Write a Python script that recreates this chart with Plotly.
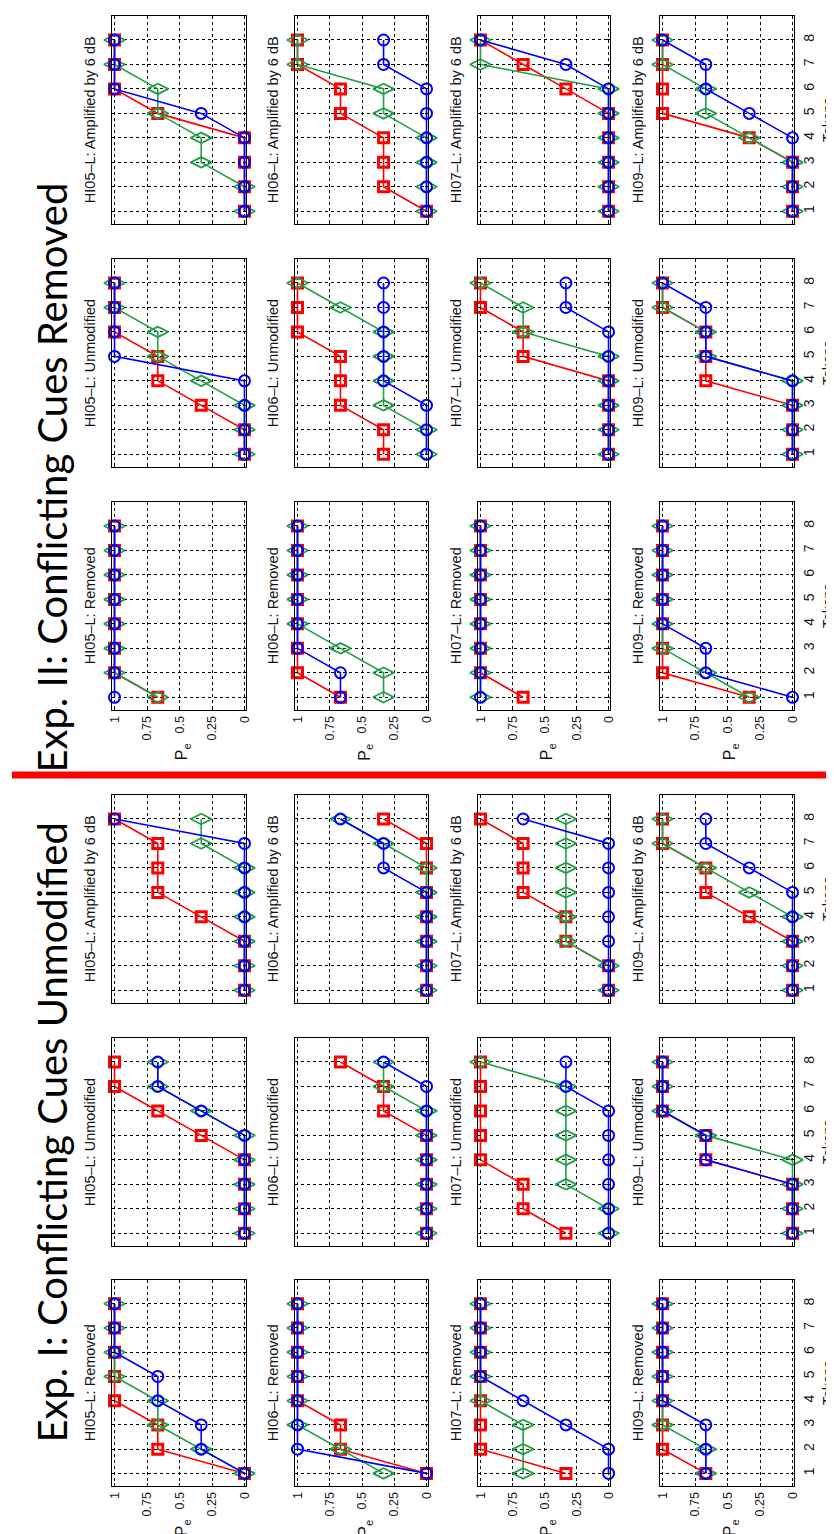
import plotly.graph_objects as go

W, H = 834, 1534

TOKENS = [1, 2, 3, 4, 5, 6, 7, 8]
LISTENERS = ["HI05", "HI06", "HI07", "HI09"]
CONDITIONS = ["Amplified by 6 dB", "Unmodified", "Removed"]
PE_TICKS = [0, 0.25, 0.5, 0.75, 1]
PE_LABELS = ["0", "0.25", "0.5", "0.75", "1"]
EXP_TITLES = ["Exp. II: Conflicting Cues Removed", "Exp. I: Conflicting Cues Unmodified"]

# ---------------- Exp. II (conflicting cues removed) ----------------
e2_amp_hi05_r = [0, 0, 0, 0, .667, 1, 1, 1]
e2_amp_hi05_g = [0, 0, .333, .333, .667, .667, 1, 1]
e2_amp_hi05_b = [0, 0, 0, 0, .333, 1, 1, 1]
e2_amp_hi06_r = [0, .333, .333, .333, .667, .667, 1, 1]
e2_amp_hi06_g = [0, 0, 0, 0, .333, .333, 1, 1]
e2_amp_hi06_b = [0, 0, 0, 0, 0, 0, .333, .333]
e2_amp_hi07_r = [0, 0, 0, 0, 0, .333, .667, 1]
e2_amp_hi07_g = [0, 0, 0, 0, 0, 0, 1, 1]
e2_amp_hi07_b = [0, 0, 0, 0, 0, 0, .333, 1]
e2_amp_hi09_r = [0, 0, 0, .333, 1, 1, 1, 1]
e2_amp_hi09_g = [0, 0, 0, .333, .667, .667, 1, 1]
e2_amp_hi09_b = [0, 0, 0, 0, .333, .667, .667, 1]

e2_unm_hi05_r = [0, 0, .333, .667, .667, 1, 1, 1]
e2_unm_hi05_g = [0, 0, 0, .333, .667, .667, 1, 1]
e2_unm_hi05_b = [0, 0, 0, 0, 1, 1, 1, 1]
e2_unm_hi06_r = [.333, .333, .667, .667, .667, 1, 1, 1]
e2_unm_hi06_g = [0, 0, .333, .333, .333, .333, .667, 1]
e2_unm_hi06_b = [0, 0, 0, .333, .333, .333, .333, .333]
e2_unm_hi07_r = [0, 0, 0, 0, .667, .667, 1, 1]
e2_unm_hi07_g = [0, 0, 0, 0, 0, .667, .667, 1]
e2_unm_hi07_b = [0, 0, 0, 0, 0, 0, .333, .333]
e2_unm_hi09_r = [0, 0, 0, .667, .667, .667, 1, 1]
e2_unm_hi09_g = [0, 0, 0, 0, .667, .667, 1, 1]
e2_unm_hi09_b = [0, 0, 0, 0, .667, .667, .667, 1]

e2_rem_hi05_r = [.667, 1, 1, 1, 1, 1, 1, 1]
e2_rem_hi05_g = [.667, 1, 1, 1, 1, 1, 1, 1]
e2_rem_hi05_b = [1, 1, 1, 1, 1, 1, 1, 1]
e2_rem_hi06_r = [.667, 1, 1, 1, 1, 1, 1, 1]
e2_rem_hi06_g = [.333, .333, .667, 1, 1, 1, 1, 1]
e2_rem_hi06_b = [.667, .667, 1, 1, 1, 1, 1, 1]
e2_rem_hi07_r = [.667, 1, 1, 1, 1, 1, 1, 1]
e2_rem_hi07_g = [1, 1, 1, 1, 1, 1, 1, 1]
e2_rem_hi07_b = [1, 1, 1, 1, 1, 1, 1, 1]
e2_rem_hi09_r = [.333, 1, 1, 1, 1, 1, 1, 1]
e2_rem_hi09_g = [.333, .667, 1, 1, 1, 1, 1, 1]
e2_rem_hi09_b = [0, .667, .667, 1, 1, 1, 1, 1]

# ---------------- Exp. I (conflicting cues unmodified) ----------------
e1_amp_hi05_r = [0, 0, 0, .333, .667, .667, .667, 1]
e1_amp_hi05_g = [0, 0, 0, 0, 0, 0, .333, .333]
e1_amp_hi05_b = [0, 0, 0, 0, 0, 0, 0, 1]
e1_amp_hi06_r = [0, 0, 0, 0, 0, 0, 0, .333]
e1_amp_hi06_g = [0, 0, 0, 0, 0, 0, .333, .667]
e1_amp_hi06_b = [0, 0, 0, 0, 0, .333, .333, .667]
e1_amp_hi07_r = [0, 0, .333, .333, .667, .667, .667, 1]
e1_amp_hi07_g = [0, 0, .333, .333, .333, .333, .333, .333]
e1_amp_hi07_b = [0, 0, 0, 0, 0, 0, 0, .667]
e1_amp_hi09_r = [0, 0, 0, .333, .667, .667, 1, 1]
e1_amp_hi09_g = [0, 0, 0, 0, .333, .667, 1, 1]
e1_amp_hi09_b = [0, 0, 0, 0, 0, .333, .667, .667]

e1_unm_hi05_r = [0, 0, 0, 0, .333, .667, 1, 1]
e1_unm_hi05_g = [0, 0, 0, 0, 0, .333, .667, .667]
e1_unm_hi05_b = [0, 0, 0, 0, 0, .333, .667, .667]
e1_unm_hi06_r = [0, 0, 0, 0, 0, .333, .333, .667]
e1_unm_hi06_g = [0, 0, 0, 0, 0, 0, .333, .333]
e1_unm_hi06_b = [0, 0, 0, 0, 0, 0, 0, .333]
e1_unm_hi07_r = [.333, .667, .667, 1, 1, 1, 1, 1]
e1_unm_hi07_g = [0, 0, .333, .333, .333, .333, .333, 1]
e1_unm_hi07_b = [0, 0, 0, 0, 0, 0, .333, .333]
e1_unm_hi09_r = [0, 0, 0, .667, .667, 1, 1, 1]
e1_unm_hi09_g = [0, 0, 0, 0, .667, 1, 1, 1]
e1_unm_hi09_b = [0, 0, 0, .667, .667, 1, 1, 1]

e1_rem_hi05_r = [0, .667, .667, 1, 1, 1, 1, 1]
e1_rem_hi05_g = [0, .333, .667, .667, 1, 1, 1, 1]
e1_rem_hi05_b = [0, .333, .333, .667, .667, 1, 1, 1]
e1_rem_hi06_r = [0, .667, .667, 1, 1, 1, 1, 1]
e1_rem_hi06_g = [.333, .667, 1, 1, 1, 1, 1, 1]
e1_rem_hi06_b = [0, 1, 1, 1, 1, 1, 1, 1]
e1_rem_hi07_r = [.333, 1, 1, 1, 1, 1, 1, 1]
e1_rem_hi07_g = [.667, .667, .667, 1, 1, 1, 1, 1]
e1_rem_hi07_b = [0, 0, .333, .667, 1, 1, 1, 1]
e1_rem_hi09_r = [.667, 1, 1, 1, 1, 1, 1, 1]
e1_rem_hi09_g = [.667, .667, 1, 1, 1, 1, 1, 1]
e1_rem_hi09_b = [.667, .667, .667, 1, 1, 1, 1, 1]

PANELS = [
    # (half, row, col, red, green, blue)
    (0, 0, 0, e2_amp_hi05_r, e2_amp_hi05_g, e2_amp_hi05_b),
    (0, 0, 1, e2_amp_hi06_r, e2_amp_hi06_g, e2_amp_hi06_b),
    (0, 0, 2, e2_amp_hi07_r, e2_amp_hi07_g, e2_amp_hi07_b),
    (0, 0, 3, e2_amp_hi09_r, e2_amp_hi09_g, e2_amp_hi09_b),
    (0, 1, 0, e2_unm_hi05_r, e2_unm_hi05_g, e2_unm_hi05_b),
    (0, 1, 1, e2_unm_hi06_r, e2_unm_hi06_g, e2_unm_hi06_b),
    (0, 1, 2, e2_unm_hi07_r, e2_unm_hi07_g, e2_unm_hi07_b),
    (0, 1, 3, e2_unm_hi09_r, e2_unm_hi09_g, e2_unm_hi09_b),
    (0, 2, 0, e2_rem_hi05_r, e2_rem_hi05_g, e2_rem_hi05_b),
    (0, 2, 1, e2_rem_hi06_r, e2_rem_hi06_g, e2_rem_hi06_b),
    (0, 2, 2, e2_rem_hi07_r, e2_rem_hi07_g, e2_rem_hi07_b),
    (0, 2, 3, e2_rem_hi09_r, e2_rem_hi09_g, e2_rem_hi09_b),
    (1, 0, 0, e1_amp_hi05_r, e1_amp_hi05_g, e1_amp_hi05_b),
    (1, 0, 1, e1_amp_hi06_r, e1_amp_hi06_g, e1_amp_hi06_b),
    (1, 0, 2, e1_amp_hi07_r, e1_amp_hi07_g, e1_amp_hi07_b),
    (1, 0, 3, e1_amp_hi09_r, e1_amp_hi09_g, e1_amp_hi09_b),
    (1, 1, 0, e1_unm_hi05_r, e1_unm_hi05_g, e1_unm_hi05_b),
    (1, 1, 1, e1_unm_hi06_r, e1_unm_hi06_g, e1_unm_hi06_b),
    (1, 1, 2, e1_unm_hi07_r, e1_unm_hi07_g, e1_unm_hi07_b),
    (1, 1, 3, e1_unm_hi09_r, e1_unm_hi09_g, e1_unm_hi09_b),
    (1, 2, 0, e1_rem_hi05_r, e1_rem_hi05_g, e1_rem_hi05_b),
    (1, 2, 1, e1_rem_hi06_r, e1_rem_hi06_g, e1_rem_hi06_b),
    (1, 2, 2, e1_rem_hi07_r, e1_rem_hi07_g, e1_rem_hi07_b),
    (1, 2, 3, e1_rem_hi09_r, e1_rem_hi09_g, e1_rem_hi09_b),
]

# ---------------- geometry (pixels) ----------------
COL_X = [(101, 237), (286, 421), (471, 605), (655, 791)]
ROW_Y = [[(8, 216), (251, 459), (494, 702)],
         [(787, 995), (1030, 1238), (1272, 1478)]]

RED, GREEN, BLUE = "#ff0000", "#23a047", "#0000ff"
TXT = "#141414"
FONT = "Liberation Sans, Arial, sans-serif"


def px(x):
    return x / W


def py(y):
    return 1 - y / H


fig = go.Figure()
layout = dict(
    width=W, height=H, margin=dict(l=0, r=0, t=0, b=0),
    paper_bgcolor="white", plot_bgcolor="white", showlegend=False,
    font=dict(family=FONT, color=TXT, size=12),
)
annotations = []

for k, (half, row, col, r, g, b) in enumerate(PANELS):
    n = k + 1
    xa = "x" if n == 1 else f"x{n}"
    ya = "y" if n == 1 else f"y{n}"
    x0, x1 = COL_X[col]
    y0, y1 = ROW_Y[half][row]
    is_bottom = row == 2
    is_right = col == 3

    for vals, color, sym, size, lw in [
        (r, RED, "square-open", 10, 3.0),
        (g, GREEN, "diamond-wide-open", 15, 1.8),
        (b, BLUE, "circle-open", 11, 2.0),
    ]:
        fig.add_trace(go.Scatter(
            x=vals, y=TOKENS, xaxis=xa, yaxis=ya, mode="lines+markers",
            line=dict(color=color, width=1.6),
            marker=dict(symbol=sym, size=size, color=color, line=dict(color=color, width=lw)),
            cliponaxis=False, hoverinfo="skip"))

    layout["xaxis" if n == 1 else f"xaxis{n}"] = dict(
        domain=[px(x0), px(x1)], anchor=ya, range=[1.02, -0.015],
        tickvals=PE_TICKS, ticktext=PE_LABELS, showticklabels=is_bottom,
        tickangle=-90, ticks="inside", ticklen=3, tickcolor="black",
        showgrid=True, gridcolor="black", griddash="dot", gridwidth=1,
        showline=True, linecolor="black", linewidth=1.3, mirror="ticks",
        zeroline=False, tickfont=dict(size=12.5, color=TXT, family=FONT),
        fixedrange=True)
    layout["yaxis" if n == 1 else f"yaxis{n}"] = dict(
        domain=[py(y1), py(y0)], anchor=xa, range=[0.48, 8.98], side="right",
        tickvals=TOKENS, ticktext=[str(t) for t in TOKENS], showticklabels=is_right,
        tickangle=-90, ticks="inside", ticklen=3, tickcolor="black",
        ticklabelstandoff=2,
        showgrid=True, gridcolor="black", griddash="dot", gridwidth=1,
        showline=True, linecolor="black", linewidth=1.3, mirror="ticks",
        zeroline=False, tickfont=dict(size=14, color=TXT, family=FONT),
        fixedrange=True)

    # panel title
    annotations.append(dict(
        xref="paper", yref="paper", x=px(x0 - 22), y=py((y0 + y1) / 2),
        text=f"{LISTENERS[col]}\u2013L: {CONDITIONS[row]}", showarrow=False,
        textangle=-90, xanchor="center", yanchor="middle",
        font=dict(size=14.5, color=TXT, family=FONT)))
    if is_bottom:
        annotations.append(dict(
            xref="paper", yref="paper", x=px((x0 + x1) / 2 + 3), y=py(y1 + 42),
            text="P<sub>e</sub>", showarrow=False, textangle=-90,
            xanchor="center", yanchor="middle",
            font=dict(size=16, color=TXT, family=FONT)))
    if is_right:
        annotations.append(dict(
            xref="paper", yref="paper", x=px(825), y=py((y0 + y1) / 2),
            text="Tokens", showarrow=False, textangle=-90,
            xanchor="center", yanchor="middle",
            font=dict(size=14, color=TXT, family=FONT)))

# experiment titles
annotations.append(dict(
    xref="paper", yref="paper", x=px(40), y=py(470), text=EXP_TITLES[0],
    showarrow=False, textangle=-90, xanchor="center", yanchor="middle",
    font=dict(size=40, color="black", family="Lato, Open Sans, sans-serif")))
annotations.append(dict(
    xref="paper", yref="paper", x=px(40), y=py(1125), text=EXP_TITLES[1],
    showarrow=False, textangle=-90, xanchor="center", yanchor="middle",
    font=dict(size=40, color="black", family="Lato, Open Sans, sans-serif")))

layout["annotations"] = annotations
layout["shapes"] = [dict(type="line", xref="paper", yref="paper",
                         x0=0, x1=1, y0=py(767), y1=py(767),
                         line=dict(color="#ff0000", width=7))]

fig.update_layout(**layout)
fig.write_html("out.html")
